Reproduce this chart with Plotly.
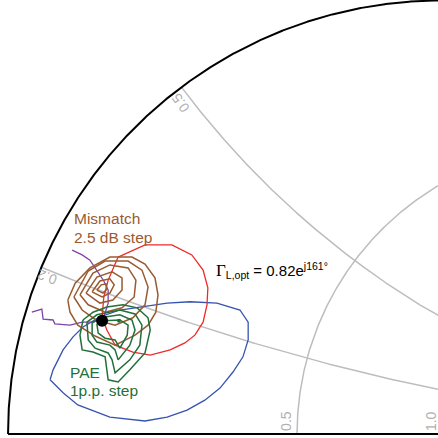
import numpy as np
import plotly.graph_objects as go

# ---------------- data (reflection coefficient, Gamma = re + j im) ----------------
red_re = [-0.746, -0.684, -0.622, -0.576, -0.550, -0.539, -0.541, -0.550, -0.569, -0.592,
          -0.626, -0.672, -0.712, -0.753, -0.772, -0.783, -0.779, -0.769, -0.746]
red_im = [0.408, 0.436, 0.436, 0.413, 0.378, 0.337, 0.298, 0.258, 0.228, 0.210,
          0.194, 0.182, 0.189, 0.205, 0.240, 0.270, 0.316, 0.355, 0.408]

blue_re = [-0.903, -0.896, -0.873, -0.850, -0.827, -0.788, -0.742, -0.689, -0.633, -0.580,
           -0.518, -0.465, -0.446, -0.446, -0.458, -0.481, -0.511, -0.546, -0.587, -0.633,
           -0.684, -0.765, -0.839, -0.873, -0.903]
blue_im = [0.125, 0.148, 0.194, 0.224, 0.247, 0.270, 0.286, 0.293, 0.302, 0.305,
           0.302, 0.286, 0.258, 0.217, 0.178, 0.143, 0.106, 0.078, 0.055, 0.039,
           0.030, 0.039, 0.067, 0.095, 0.125]

purple1_re = [-0.852, -0.829, -0.811, -0.802, -0.790, -0.779, -0.769, -0.769, -0.776, -0.783]
purple1_im = [0.424, 0.413, 0.401, 0.388, 0.371, 0.353, 0.332, 0.302, 0.279, 0.263]
purple2_re = [-0.945, -0.922, -0.919, -0.896, -0.892, -0.857, -0.829, -0.806, -0.783]
purple2_im = [0.281, 0.288, 0.265, 0.263, 0.254, 0.251, 0.258, 0.258, 0.263]

# Mismatch contours, 2.5 dB step (innermost first)
mismatch_re = [
    [-0.795, -0.785, -0.774, -0.772, -0.781, -0.795],
    [-0.806, -0.788, -0.765, -0.755, -0.765, -0.783, -0.806],
    [-0.820, -0.795, -0.760, -0.737, -0.737, -0.758, -0.788, -0.820],
    [-0.834, -0.804, -0.765, -0.723, -0.705, -0.709, -0.737, -0.776, -0.815, -0.834],
    [-0.848, -0.815, -0.776, -0.723, -0.691, -0.677, -0.684, -0.712, -0.753, -0.797, -0.829, -0.848],
    [-0.862, -0.845, -0.811, -0.765, -0.714, -0.684, -0.661, -0.654, -0.659, -0.677, -0.707,
     -0.753, -0.799, -0.839, -0.857, -0.862],
]
mismatch_im = [
    [0.332, 0.344, 0.346, 0.334, 0.325, 0.332],
    [0.328, 0.353, 0.358, 0.344, 0.325, 0.316, 0.328],
    [0.325, 0.362, 0.374, 0.360, 0.332, 0.309, 0.302, 0.325],
    [0.321, 0.371, 0.390, 0.383, 0.355, 0.316, 0.291, 0.281, 0.298, 0.321],
    [0.316, 0.376, 0.399, 0.399, 0.378, 0.339, 0.298, 0.268, 0.251, 0.263, 0.286, 0.316],
    [0.309, 0.348, 0.383, 0.408, 0.408, 0.392, 0.360, 0.321, 0.281, 0.251, 0.228,
     0.205, 0.226, 0.251, 0.281, 0.309],
]

# PAE contours, 1 p.p. step (innermost first)
pae_re = [
    [-0.795, -0.781, -0.742, -0.723, -0.725, -0.742, -0.753, -0.776, -0.792, -0.795],
    [-0.806, -0.788, -0.742, -0.714, -0.707, -0.719, -0.746, -0.753, -0.765, -0.795, -0.806, -0.806],
    [-0.818, -0.795, -0.742, -0.707, -0.691, -0.696, -0.719, -0.753, -0.760, -0.769, -0.799, -0.815, -0.818],
    [-0.827, -0.804, -0.772, -0.735, -0.702, -0.677, -0.672, -0.684, -0.719, -0.746, -0.769,
     -0.776, -0.804, -0.829, -0.834, -0.827],
]
pae_im = [
    [0.254, 0.261, 0.263, 0.251, 0.228, 0.198, 0.217, 0.221, 0.233, 0.254],
    [0.256, 0.268, 0.275, 0.263, 0.240, 0.205, 0.171, 0.194, 0.205, 0.212, 0.228, 0.256],
    [0.258, 0.275, 0.286, 0.277, 0.251, 0.205, 0.171, 0.141, 0.171, 0.187, 0.198, 0.217, 0.258],
    [0.263, 0.281, 0.293, 0.298, 0.291, 0.268, 0.240, 0.187, 0.148, 0.120, 0.125,
     0.178, 0.189, 0.194, 0.228, 0.263],
]

pae_max = (-0.744, 0.261)
gamma_opt = (-0.783, 0.261)

# grid values
r_circles = [0.5, 1.0]
x_arcs = [0.2, 0.5]

# ---------------- styles ----------------
GRID = "#bdbdbd"
BROWN = "#9a5a30"
GREEN = "#22703a"
RED = "#ee2a2a"
BLUE = "#3553b0"
PURPLE = "#7e45a8"

fig = go.Figure()

def add_line(xs, ys, color, width):
    fig.add_trace(go.Scatter(x=xs, y=ys, mode="lines",
                             line=dict(color=color, width=width),
                             hoverinfo="skip", showlegend=False))

# Smith grid through the bilinear map Gamma = (z-1)/(z+1)
t = np.tan(np.linspace(0, np.pi / 2 - 1e-4, 1500))
for r in r_circles:
    g = (r + 1j * t - 1) / (r + 1j * t + 1)
    add_line(g.real, g.imag, GRID, 1.5)
for xv in x_arcs:
    g = (t + 1j * xv - 1) / (t + 1j * xv + 1)
    add_line(g.real, g.imag, GRID, 1.5)
# outer circle and real axis
g = (1j * t - 1) / (1j * t + 1)
add_line(g.real, g.imag, "black", 2)
add_line([-1, 1], [0, 0], "black", 2)

# contours
add_line(blue_re, blue_im, BLUE, 1.3)
add_line(red_re, red_im, RED, 1.3)
add_line(purple1_re, purple1_im, PURPLE, 1.3)
add_line(purple2_re, purple2_im, PURPLE, 1.3)
for xs, ys in zip(mismatch_re, mismatch_im):
    add_line(xs, ys, BROWN, 1.5)
for xs, ys in zip(pae_re, pae_im):
    add_line(xs, ys, GREEN, 1.5)

fig.add_trace(go.Scatter(x=[pae_max[0]], y=[pae_max[1]], mode="markers",
                         marker=dict(color=GREEN, size=4), showlegend=False, hoverinfo="skip"))
fig.add_trace(go.Scatter(x=[gamma_opt[0]], y=[gamma_opt[1]], mode="markers",
                         marker=dict(color="black", size=12), showlegend=False, hoverinfo="skip"))

FONT = "Liberation Sans, Arial, sans-serif"
def ann(x, y, text, color, size, angle=0, xanchor="left"):
    fig.add_annotation(x=x, y=y, xref="x", yref="y", text=text, showarrow=False,
                       xanchor=xanchor, yanchor="middle", textangle=angle,
                       font=dict(family=FONT, size=size, color=color))

ann(-0.852, 0.496, "Mismatch", BROWN, 15.5)
ann(-0.852, 0.454, "2.5 dB step", BROWN, 15.5)
ann(-0.861, 0.143, "PAE", GREEN, 15.5)
ann(-0.861, 0.101, "1p.p. step", GREEN, 15.5)
ann(-0.524, 0.376,
    "<span style='font-family:Liberation Serif;font-size:17px'>Γ</span><sub>L,opt</sub> = 0.82e<sup>j161°</sup>",
    "black", 15)

# grid labels
ann(-0.910, 0.362, "0.2", "#b0b0b0", 14, angle=-161, xanchor="center")
ann(-0.603, 0.764, "0.5", "#b0b0b0", 14, angle=-125.5, xanchor="center")
ann(-0.359, 0.030, "0.5", "#b0b0b0", 14, angle=-90, xanchor="center")
ann(-0.024, 0.030, "1.0", "#b0b0b0", 14, angle=-90, xanchor="center")

fig.update_xaxes(range=[-1.0185, -0.0081], visible=False)
fig.update_yaxes(range=[-0.0092, 1.001], visible=False)
fig.update_layout(width=438, height=438, margin=dict(l=0, r=0, t=0, b=0),
                  paper_bgcolor="white", plot_bgcolor="white",
                  font=dict(family=FONT))

fig.write_html("out.html", config={"displayModeBar": False},
               post_script="document.body.style.margin='0';")
